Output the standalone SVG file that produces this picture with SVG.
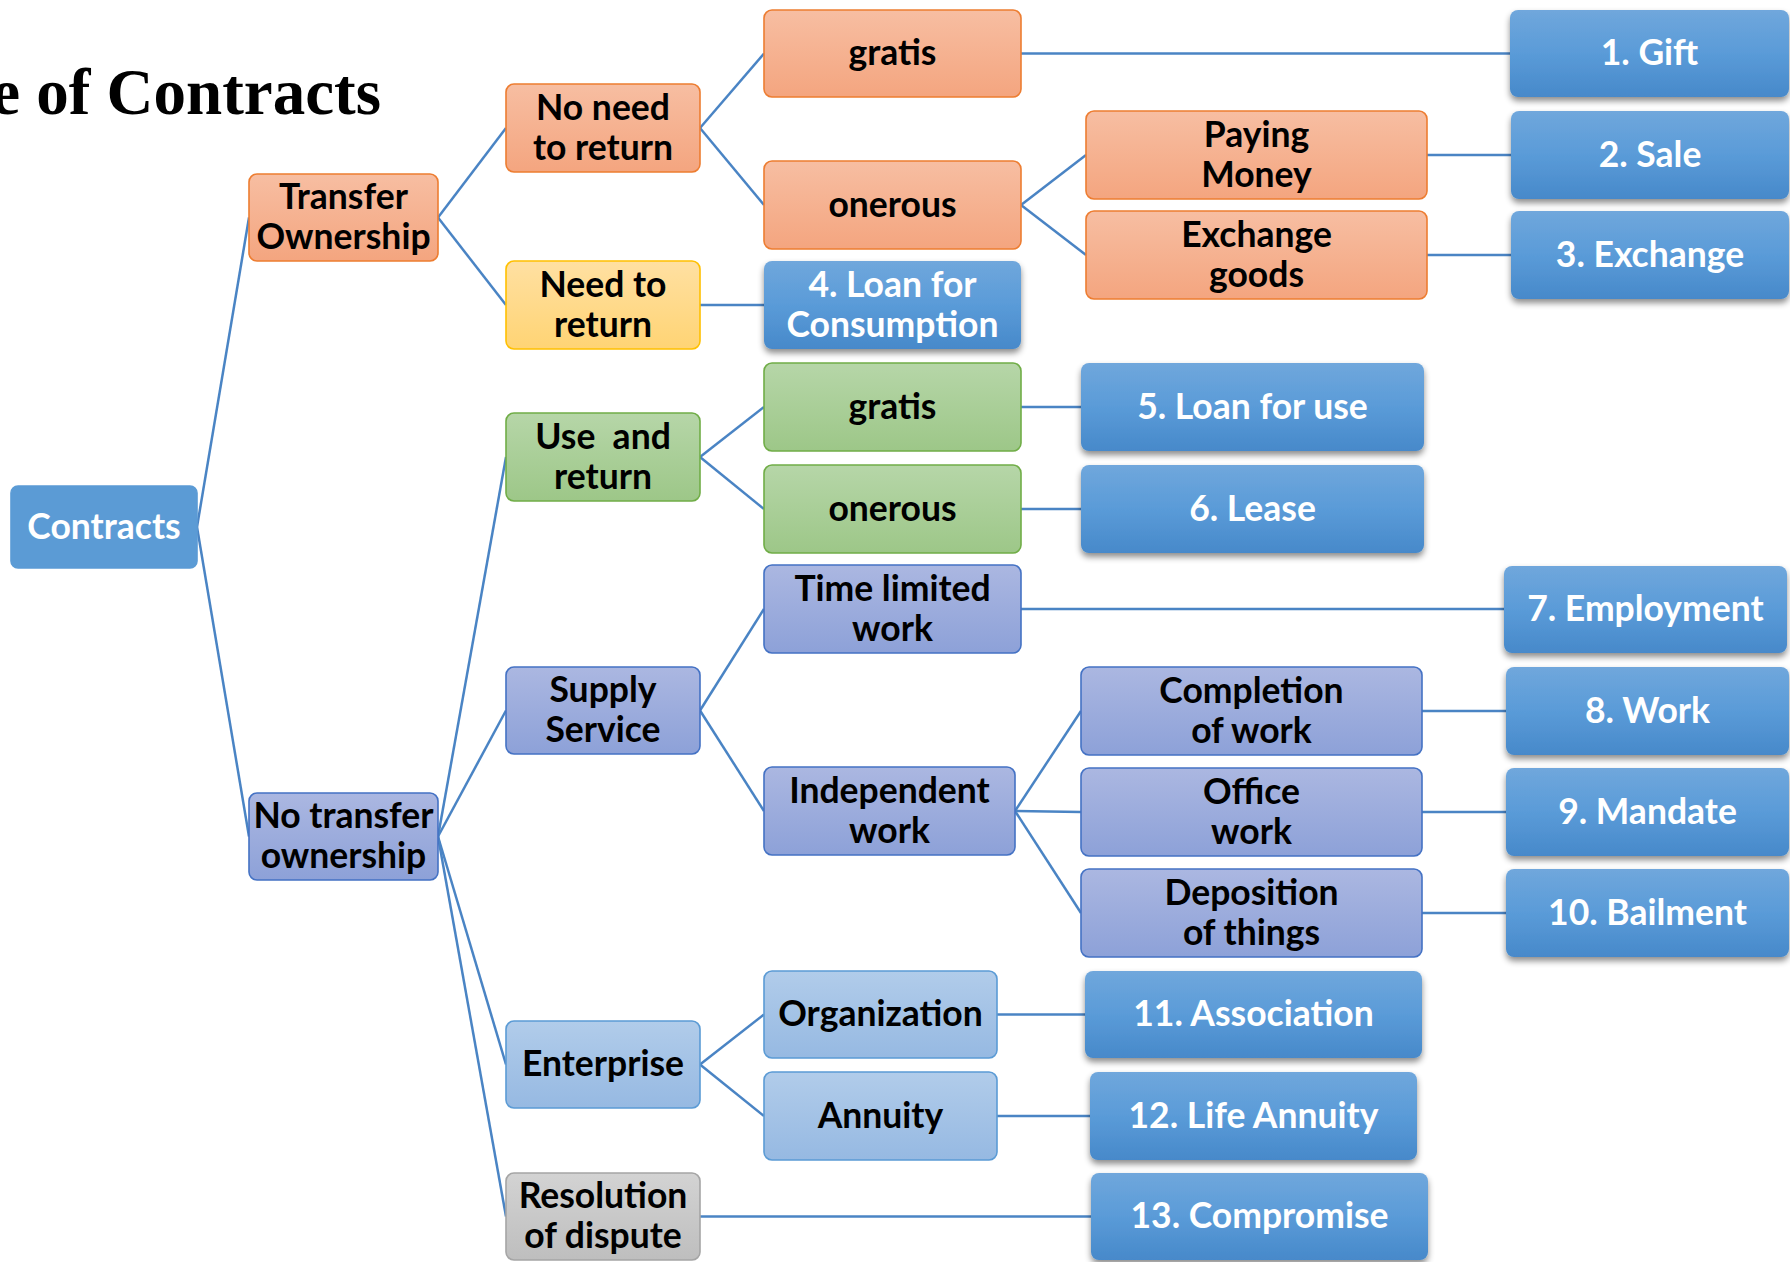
<svg xmlns="http://www.w3.org/2000/svg" width="1790" height="1262" viewBox="0 0 1790 1262">
  <defs>
    <linearGradient id="gOrange" x1="0" y1="0" x2="0" y2="1">
      <stop offset="0" stop-color="#F7BEA2"/>
      <stop offset="1" stop-color="#F4A57F"/>
    </linearGradient>
    <linearGradient id="gYellow" x1="0" y1="0" x2="0" y2="1">
      <stop offset="0" stop-color="#FFE0A2"/>
      <stop offset="1" stop-color="#FFD474"/>
    </linearGradient>
    <linearGradient id="gGreen" x1="0" y1="0" x2="0" y2="1">
      <stop offset="0" stop-color="#B6D6A8"/>
      <stop offset="1" stop-color="#9DC788"/>
    </linearGradient>
    <linearGradient id="gPurple" x1="0" y1="0" x2="0" y2="1">
      <stop offset="0" stop-color="#ABB7E1"/>
      <stop offset="1" stop-color="#8DA1D8"/>
    </linearGradient>
    <linearGradient id="gSky" x1="0" y1="0" x2="0" y2="1">
      <stop offset="0" stop-color="#B1CCEA"/>
      <stop offset="1" stop-color="#96B9E2"/>
    </linearGradient>
    <linearGradient id="gGray" x1="0" y1="0" x2="0" y2="1">
      <stop offset="0" stop-color="#D3D3D3"/>
      <stop offset="1" stop-color="#BEBEBE"/>
    </linearGradient>
    <linearGradient id="gLeaf" x1="0" y1="0" x2="0" y2="1">
      <stop offset="0" stop-color="#70A7DC"/>
      <stop offset="0.5" stop-color="#5A9BD8"/>
      <stop offset="1" stop-color="#4789CA"/>
    </linearGradient>
    <filter id="shadow" x="-10%" y="-20%" width="120%" height="150%">
      <feDropShadow dx="0" dy="4" stdDeviation="3" flood-color="#000" flood-opacity="0.45"/>
    </filter>
    <style>
      rect { stroke-width: 1.6; }
      .orange rect { fill: url(#gOrange); stroke: #ED7D31; }
      .yellow rect { fill: url(#gYellow); stroke: #FFC000; }
      .green rect { fill: url(#gGreen); stroke: #70AD47; }
      .purple rect { fill: url(#gPurple); stroke: #4472C4; }
      .sky rect { fill: url(#gSky); stroke: #5B9BD5; }
      .gray rect { fill: url(#gGray); stroke: #A5A5A5; }
      .leaf rect { fill: url(#gLeaf); stroke: none; filter: url(#shadow); }
      .root rect { fill: #5B9BD5; stroke: #5B9BD5; }
      text { font-family: Lato, "Liberation Sans", sans-serif; font-weight: 700; font-size: 35.5px; text-anchor: middle; fill: #000; }
      .leaf text, .root text { fill: #fff; }
      .title { font-family: "Liberation Serif", "Times New Roman", serif; font-size: 65px; text-anchor: end; fill: #000; }
      #connectors path { fill: none; stroke: #4A84C4; stroke-width: 2.5; }
    </style>
  </defs>

  <rect x="0" y="0" width="1790" height="1262" fill="#fff"/>

  <text class="title" x="381" y="114">e of Contracts</text>

  <g id="connectors">
    <path d="M197,527 L249,217.5"/>
    <path d="M197,527 L249,836.5"/>
    <path d="M438,217.5 L506,128"/>
    <path d="M438,217.5 L506,305"/>
    <path d="M700,128 L764,53.5"/>
    <path d="M700,128 L764,205"/>
    <path d="M700,305 L764,305"/>
    <path d="M1021,53.5 L1510,53.5"/>
    <path d="M1021,205 L1086,155"/>
    <path d="M1021,205 L1086,255"/>
    <path d="M1427,155 L1511,155"/>
    <path d="M1427,255 L1511,255"/>
    <path d="M438,836.5 L506,457"/>
    <path d="M438,836.5 L506,710.5"/>
    <path d="M438,836.5 L506,1064.5"/>
    <path d="M438,836.5 L506,1216.5"/>
    <path d="M700,457 L764,407"/>
    <path d="M700,457 L764,509"/>
    <path d="M1021,407 L1081,407"/>
    <path d="M1021,509 L1081,509"/>
    <path d="M700,710.5 L764,609"/>
    <path d="M700,710.5 L764,811"/>
    <path d="M1021,609 L1504,609"/>
    <path d="M1015,811 L1081,711"/>
    <path d="M1015,811 L1081,812"/>
    <path d="M1015,811 L1081,913"/>
    <path d="M1422,711 L1506,711"/>
    <path d="M1422,812 L1506,812"/>
    <path d="M1422,913 L1506,913"/>
    <path d="M700,1064.5 L764,1014.5"/>
    <path d="M700,1064.5 L764,1116"/>
    <path d="M997,1014.5 L1085,1014.5"/>
    <path d="M997,1116 L1090,1116"/>
    <path d="M700,1216.5 L1091,1216.5"/>
  </g>

  <!-- root -->
  <g id="contracts" class="root">
    <rect x="11" y="486" width="186" height="82" rx="7"/>
    <text x="104" y="539">Contracts</text>
  </g>

  <!-- ownership level -->
  <g id="transfer-ownership" class="orange">
    <rect x="249" y="174" width="189" height="87" rx="8"/>
    <text x="343.5" y="209">Transfer</text>
    <text x="343.5" y="249">Ownership</text>
  </g>
  <g id="no-transfer-ownership" class="purple">
    <rect x="249" y="793" width="189" height="87" rx="8"/>
    <text x="343.5" y="828">No transfer</text>
    <text x="343.5" y="868">ownership</text>
  </g>

  <!-- second level -->
  <g id="no-need-to-return" class="orange">
    <rect x="506" y="84" width="194" height="88" rx="8"/>
    <text x="603" y="119.5">No need</text>
    <text x="603" y="159.5">to return</text>
  </g>
  <g id="need-to-return" class="yellow">
    <rect x="506" y="261" width="194" height="88" rx="8"/>
    <text x="603" y="296.5">Need to</text>
    <text x="603" y="336.5">return</text>
  </g>
  <g id="use-and-return" class="green">
    <rect x="506" y="413" width="194" height="88" rx="8"/>
    <text x="603" y="448.5" style="white-space:pre">Use  and</text>
    <text x="603" y="488.5">return</text>
  </g>
  <g id="supply-service" class="purple">
    <rect x="506" y="667" width="194" height="87" rx="8"/>
    <text x="603" y="702">Supply</text>
    <text x="603" y="742">Service</text>
  </g>
  <g id="enterprise" class="sky">
    <rect x="506" y="1021" width="194" height="87" rx="8"/>
    <text x="603" y="1076">Enterprise</text>
  </g>
  <g id="resolution-of-dispute" class="gray">
    <rect x="506" y="1173" width="194" height="87" rx="8"/>
    <text x="603" y="1208">Resolution</text>
    <text x="603" y="1248">of dispute</text>
  </g>

  <!-- third level -->
  <g id="gratis-transfer" class="orange">
    <rect x="764" y="10" width="257" height="87" rx="8"/>
    <text x="892.5" y="65">gratis</text>
  </g>
  <g id="onerous-transfer" class="orange">
    <rect x="764" y="161" width="257" height="88" rx="8"/>
    <text x="892.5" y="216.5">onerous</text>
  </g>
  <g id="loan-for-consumption" class="leaf">
    <rect x="764" y="261" width="257" height="88" rx="8"/>
    <text x="892.5" y="296.5">4. Loan for</text>
    <text x="892.5" y="336.5">Consumption</text>
  </g>
  <g id="gratis-use" class="green">
    <rect x="764" y="363" width="257" height="88" rx="8"/>
    <text x="892.5" y="418.5">gratis</text>
  </g>
  <g id="onerous-use" class="green">
    <rect x="764" y="465" width="257" height="88" rx="8"/>
    <text x="892.5" y="520.5">onerous</text>
  </g>
  <g id="time-limited-work" class="purple">
    <rect x="764" y="565" width="257" height="88" rx="8"/>
    <text x="892.5" y="600.5">Time limited</text>
    <text x="892.5" y="640.5">work</text>
  </g>
  <g id="independent-work" class="purple">
    <rect x="764" y="767" width="251" height="88" rx="8"/>
    <text x="889.5" y="802.5">Independent</text>
    <text x="889.5" y="842.5">work</text>
  </g>
  <g id="organization" class="sky">
    <rect x="764" y="971" width="233" height="87" rx="8"/>
    <text x="880.5" y="1026">Organization</text>
  </g>
  <g id="annuity" class="sky">
    <rect x="764" y="1072" width="233" height="88" rx="8"/>
    <text x="880.5" y="1127.5">Annuity</text>
  </g>

  <!-- fourth level -->
  <g id="paying-money" class="orange">
    <rect x="1086" y="111" width="341" height="88" rx="8"/>
    <text x="1256.5" y="146.5">Paying</text>
    <text x="1256.5" y="186.5">Money</text>
  </g>
  <g id="exchange-goods" class="orange">
    <rect x="1086" y="211" width="341" height="88" rx="8"/>
    <text x="1256.5" y="246.5">Exchange</text>
    <text x="1256.5" y="286.5">goods</text>
  </g>
  <g id="loan-for-use" class="leaf">
    <rect x="1081" y="363" width="343" height="88" rx="8"/>
    <text x="1252.5" y="418.5">5. Loan for use</text>
  </g>
  <g id="lease" class="leaf">
    <rect x="1081" y="465" width="343" height="88" rx="8"/>
    <text x="1252.5" y="520.5">6. Lease</text>
  </g>
  <g id="completion-of-work" class="purple">
    <rect x="1081" y="667" width="341" height="88" rx="8"/>
    <text x="1251.5" y="702.5">Completion</text>
    <text x="1251.5" y="742.5">of work</text>
  </g>
  <g id="office-work" class="purple">
    <rect x="1081" y="768" width="341" height="88" rx="8"/>
    <text x="1251.5" y="803.5">Office</text>
    <text x="1251.5" y="843.5">work</text>
  </g>
  <g id="deposition-of-things" class="purple">
    <rect x="1081" y="869" width="341" height="88" rx="8"/>
    <text x="1251.5" y="904.5">Deposition</text>
    <text x="1251.5" y="944.5">of things</text>
  </g>
  <g id="association" class="leaf">
    <rect x="1085" y="971" width="337" height="87" rx="8"/>
    <text x="1253.5" y="1026">11. Association</text>
  </g>
  <g id="life-annuity" class="leaf">
    <rect x="1090" y="1072" width="327" height="88" rx="8"/>
    <text x="1253.5" y="1127.5">12. Life Annuity</text>
  </g>
  <g id="compromise" class="leaf">
    <rect x="1091" y="1173" width="337" height="87" rx="8"/>
    <text x="1259.5" y="1228">13. Compromise</text>
  </g>

  <!-- right-hand contract types -->
  <g id="gift" class="leaf">
    <rect x="1510" y="10" width="279" height="87" rx="8"/>
    <text x="1649.5" y="65">1. Gift</text>
  </g>
  <g id="sale" class="leaf">
    <rect x="1511" y="111" width="278" height="88" rx="8"/>
    <text x="1650" y="166.5">2. Sale</text>
  </g>
  <g id="exchange" class="leaf">
    <rect x="1511" y="211" width="278" height="88" rx="8"/>
    <text x="1650" y="266.5">3. Exchange</text>
  </g>
  <g id="employment" class="leaf">
    <rect x="1504" y="566" width="283" height="87" rx="8"/>
    <text x="1645.5" y="621">7. Employment</text>
  </g>
  <g id="work" class="leaf">
    <rect x="1506" y="667" width="283" height="88" rx="8"/>
    <text x="1647.5" y="722.5">8. Work</text>
  </g>
  <g id="mandate" class="leaf">
    <rect x="1506" y="768" width="283" height="88" rx="8"/>
    <text x="1647.5" y="823.5">9. Mandate</text>
  </g>
  <g id="bailment" class="leaf">
    <rect x="1506" y="869" width="283" height="88" rx="8"/>
    <text x="1647.5" y="924.5">10. Bailment</text>
  </g>
</svg>
